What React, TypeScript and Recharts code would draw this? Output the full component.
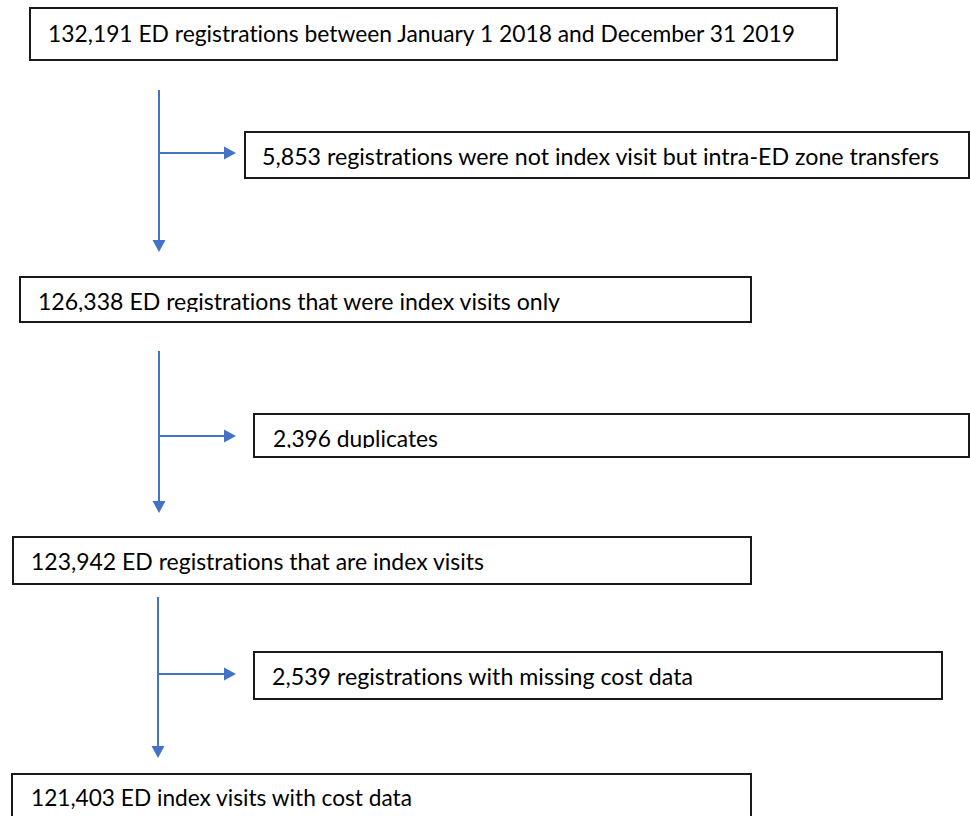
import React from "react";
import { ScatterChart, XAxis, YAxis, Scatter, ReferenceArea, ReferenceLine } from "recharts";

// ---- data ----
const counts = [132191, 5853, 126338, 2396, 123942, 2539, 121403];
const descriptions = [
  "ED registrations between January 1 2018 and December 31 2019",
  "registrations were not index visit but intra-ED zone transfers",
  "ED registrations that were index visits only",
  "duplicates",
  "ED registrations that are index visits",
  "registrations with missing cost data",
  "ED index visits with cost data",
];

// ---- layout (chart coordinate space) ----
const boxX1 = [30, 245, 20, 254, 13, 254, 12];
const boxX2 = [837, 969, 751, 969, 751, 942, 751];
const boxY1 = [8, 132, 277, 414, 537, 652, 774];
const boxY2 = [60, 178, 322, 457, 584, 699, 830];
const textX = [48, 262, 38, 273, 31, 272, 31];
const textBase = [42, 165, 310, 447, 570, 685, 806];
const textLen = [747, 677, 522, 165, 453, 421, 381];
const textClip = [0, 0, 312, 448, 0, 0, 0];

const trunkX = [159, 159, 158];
const trunkTop = [90, 351, 597];
const trunkTip = [252, 513, 758];
const branchY = [153, 436, 674];
const branchTip = 236;
const HEAD = 12;

const BLUE = "#4472C4";

const textPoints = counts.map((c, i) => ({
  x: textX[i],
  y: textBase[i],
  label: `${c.toLocaleString("en-US")} ${descriptions[i]}`,
  len: textLen[i],
  clip: textClip[i] ? textClip[i] - textBase[i] : 0,
  id: i,
}));
const downTips = trunkX.map((x, i) => ({ x, y: trunkTip[i] }));
const rightTips = branchY.map((y) => ({ x: branchTip, y }));

const TextShape = (props: any) => {
  const { cx, cy } = props;
  const p = props.payload || props;
  const clipId = `clip-${p.id}`;
  return (
    <g>
      {p.clip ? (
        <defs>
          <clipPath id={clipId}>
            <rect x={cx - 5} y={cy - 40} width={p.len + 20} height={40 + p.clip} />
          </clipPath>
        </defs>
      ) : null}
      <text
        x={cx}
        y={cy}
        fontFamily="Lato, 'Open Sans', sans-serif"
        fontSize={23}
        fill="#000"
        textLength={p.len}
        lengthAdjust="spacingAndGlyphs"
        style={{ fontVariantLigatures: "none", fontFeatureSettings: '"liga" 0, "clig" 0' }}
        clipPath={p.clip ? `url(#${clipId})` : undefined}
      >
        {p.label}
      </text>
    </g>
  );
};

const DownHead = (props: any) => {
  const { cx, cy } = props;
  return <path d={`M${cx - 6.5},${cy - HEAD} L${cx + 6.5},${cy - HEAD} L${cx},${cy} Z`} fill={BLUE} />;
};
const RightHead = (props: any) => {
  const { cx, cy } = props;
  return <path d={`M${cx - HEAD},${cy - 6.5} L${cx - HEAD},${cy + 6.5} L${cx},${cy} Z`} fill={BLUE} />;
};

export default function App() {
  return (
    <div style={{ position: "absolute", left: 0, top: 0, width: 970, height: 816, background: "#fff" }}>
      <ScatterChart width={970} height={816} margin={{ top: 0, right: 0, bottom: 0, left: 0 }}>
        <XAxis type="number" dataKey="x" domain={[0, 970]} hide allowDataOverflow />
        <YAxis type="number" dataKey="y" domain={[0, 816]} reversed hide allowDataOverflow />
        {counts.map((_, i) => (
          <ReferenceArea
            key={`box-${i}`}
            x1={boxX1[i]}
            x2={boxX2[i]}
            y1={boxY1[i]}
            y2={boxY2[i]}
            fill="none"
            fillOpacity={0}
            stroke="#1a1a1a"
            strokeWidth={2}
            ifOverflow="visible"
          />
        ))}
        {trunkX.map((x, i) => (
          <ReferenceLine
            key={`trunk-${i}`}
            segment={[
              { x, y: trunkTop[i] },
              { x, y: trunkTip[i] - HEAD + 1 },
            ]}
            stroke={BLUE}
            strokeWidth={2}
            ifOverflow="visible"
          />
        ))}
        {branchY.map((y, i) => (
          <ReferenceLine
            key={`branch-${i}`}
            segment={[
              { x: trunkX[i], y },
              { x: branchTip - HEAD + 1, y },
            ]}
            stroke={BLUE}
            strokeWidth={2}
            ifOverflow="visible"
          />
        ))}
        <Scatter data={downTips} shape={<DownHead />} isAnimationActive={false} />
        <Scatter data={rightTips} shape={<RightHead />} isAnimationActive={false} />
        <Scatter data={textPoints} shape={<TextShape />} isAnimationActive={false} />
      </ScatterChart>
    </div>
  );
}
